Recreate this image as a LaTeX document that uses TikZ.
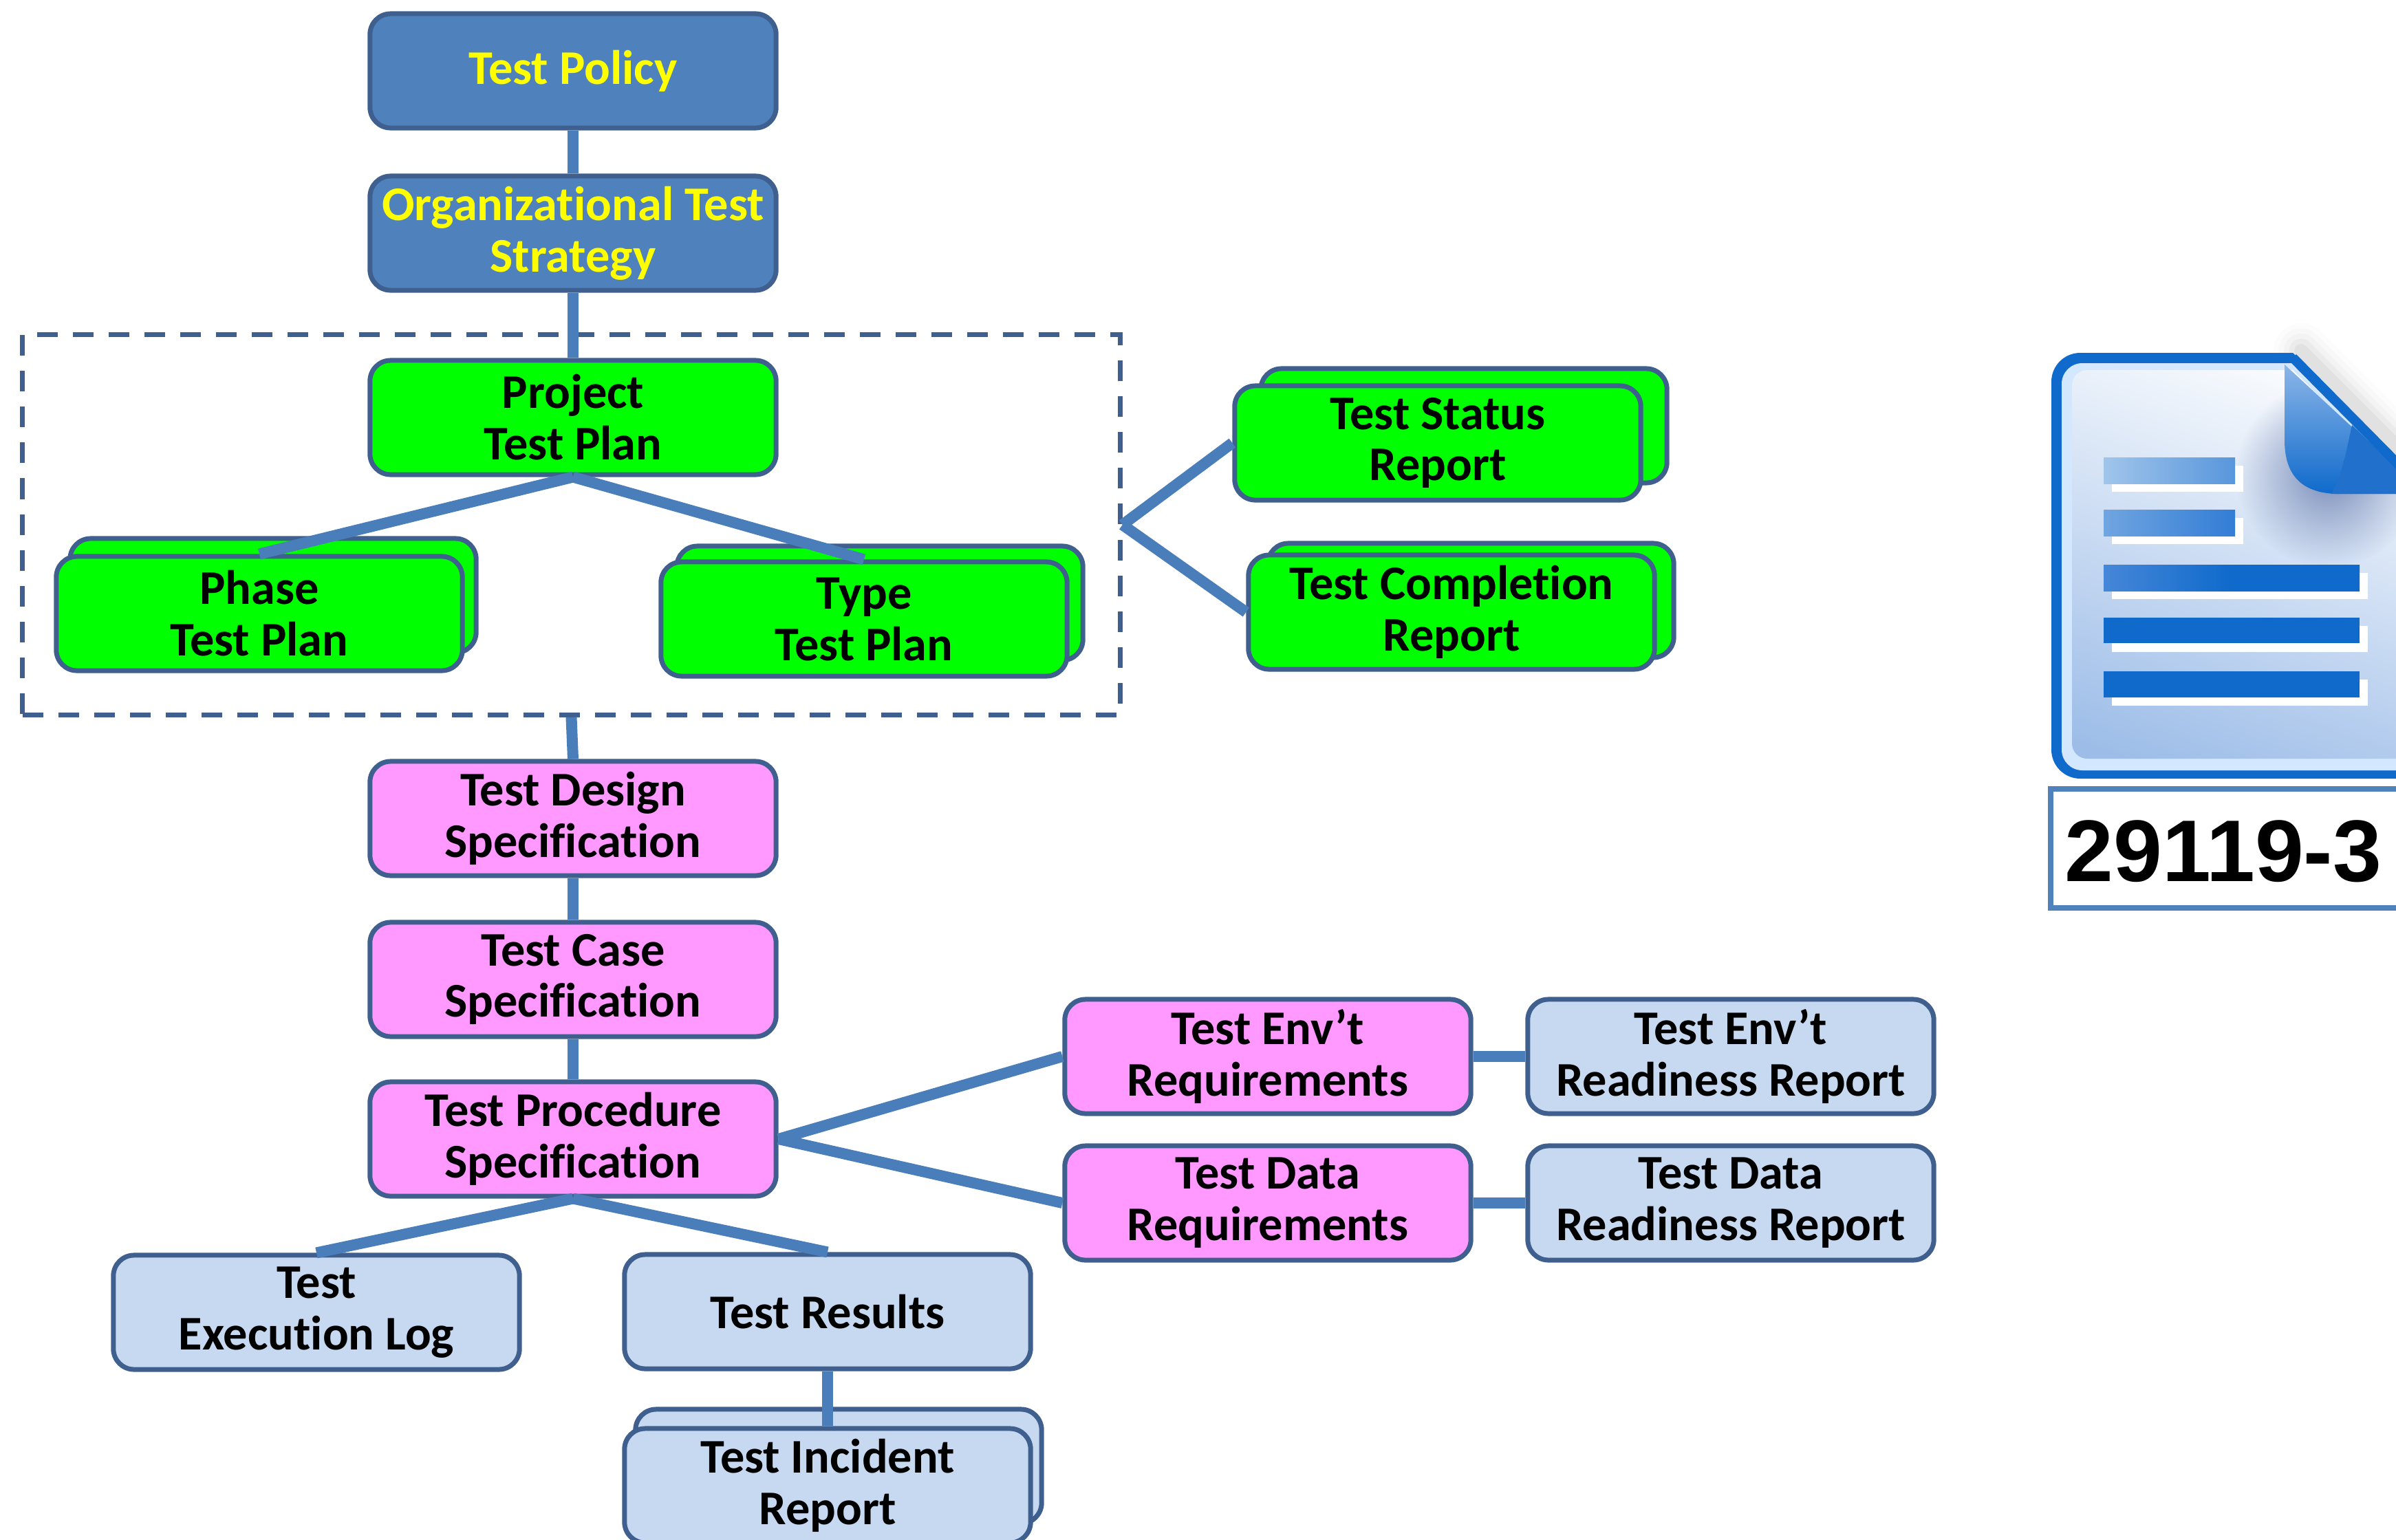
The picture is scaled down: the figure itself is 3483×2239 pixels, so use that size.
\documentclass[tikz,border=0pt]{standalone}
\usepackage{fontspec}
\usetikzlibrary{fadings}
\setmainfont[Ligatures=NoCommon]{Carlito}
\newfontfamily\labelfont{Liberation Sans}
\definecolor{boxline}{HTML}{3F5F8F}
\definecolor{linkblue}{HTML}{4A7EBB}
\definecolor{topblue}{HTML}{4F81BD}
\definecolor{planpink}{HTML}{FF99FF}
\definecolor{paleblue}{HTML}{C6D9F1}
\definecolor{plangreen}{HTML}{00FF00}
\definecolor{titleyellow}{HTML}{FFFF00}
\definecolor{docblue}{HTML}{0F6ACB}
\definecolor{docband}{HTML}{D3E8FF}
\definecolor{pagemid}{HTML}{C8D9F1}
\definecolor{pagelow}{HTML}{9DBDE8}
\definecolor{pageshadow}{HTML}{788CB9}
\definecolor{foldtop}{HTML}{8CB6E8}
\definecolor{folddark}{HTML}{2070CC}
\definecolor{barAl}{HTML}{A0C5EB}
\definecolor{barAr}{HTML}{5896DC}
\definecolor{barBl}{HTML}{70A5E0}
\definecolor{barBr}{HTML}{327DD6}
\definecolor{barCl}{HTML}{4687D8}
\tikzfading[name=softspot,inner color=transparent!0,outer color=transparent!100]
\tikzset{
  x=0.01cm,y=-0.01cm,
  basebox/.style={draw=boxline,line width=0.07cm,rounded corners=0.3cm,minimum width=5.9cm,minimum height=1.66cm,inner sep=0pt,align=center,font=\fontsize{20}{21.3}\selectfont\bfseries,text=black},
  bluebox/.style={basebox,fill=topblue,text=titleyellow},
  greenbox/.style={basebox,fill=plangreen},
  pinkbox/.style={basebox,fill=planpink},
  palebox/.style={basebox,fill=paleblue},
  link/.style={draw=linkblue,line width=0.16cm},
  frame/.style={draw=boxline,line width=0.065cm,dash pattern=on 0.3cm off 0.22cm,minimum width=15.95cm,minimum height=5.53cm,inner sep=0pt},
  barshadow/.style={fill=white},
}
\begin{document}
\begin{tikzpicture}
\useasboundingbox (0,0) rectangle (3483,2239);
\clip (0,0) rectangle (3483,2239);
\fill[white] (0,0) rectangle (3483,2239);
% dashed frame
\node[frame] (dashframe) at (830.5,763) {};
% stacked back boxes
\node[greenbox] (phaseback) at (397,866) {};
\node[greenbox] (typeback) at (1279,877) {};
\node[greenbox] (statusback) at (2128,619) {};
\node[greenbox] (complback) at (2138,873) {};
\node[palebox] (incidentback) at (1219,2132) {};
% boxes
\node[bluebox] (policy) at (833,103) {Test Policy};
\node[bluebox] (org) at (833,339) {Organizational Test\\Strategy};
\node[greenbox] (project) at (833,607) {Project\\Test Plan};
\node[greenbox] (phase) at (377,892) {Phase\\Test Plan};
\node[greenbox] (type) at (1256,900) {Type\\Test Plan};
\node[greenbox] (status) at (2090,644) {Test Status\\Report};
\node[greenbox] (compl) at (2110,890) {Test Completion\\Report};
\node[pinkbox] (design) at (833,1190) {Test Design\\Specification};
\node[pinkbox] (case) at (833,1424) {Test Case\\Specification};
\node[pinkbox] (proc) at (833,1656) {Test Procedure\\Specification};
\node[pinkbox] (envreq) at (1843,1536) {Test Env’t\\Requirements};
\node[pinkbox] (datareq) at (1843,1749) {Test Data\\Requirements};
\node[palebox] (envready) at (2516,1536) {Test Env’t\\Readiness Report};
\node[palebox] (dataready) at (2516,1749) {Test Data\\Readiness Report};
\node[palebox] (execlog) at (460,1908) {Test\\Execution Log};
\node[palebox] (results) at (1203,1907) {Test Results};
\node[palebox] (incident) at (1203,2160) {Test Incident\\Report};
% connectors
\draw[link] (policy.south) -- (org.north);
\draw[link] (org.south) -- (project.north);
\draw[link] (project.south) -- (phase.north);
\draw[link] (project.south) -- (type.north);
\draw[link] (dashframe.south) -- (design.north);
\draw[link] (dashframe.east) -- (status.west);
\draw[link] (dashframe.east) -- (compl.west);
\draw[link] (design.south) -- (case.north);
\draw[link] (case.south) -- (proc.north);
\draw[link] (proc.east) -- (envreq.west);
\draw[link] (proc.east) -- (datareq.west);
\draw[link] (envreq.east) -- (envready.west);
\draw[link] (datareq.east) -- (dataready.west);
\draw[link] (proc.south) -- (execlog.north);
\draw[link] (proc.south) -- (results.north);
\draw[link] (results.south) -- (incident.north);
% document icon
\foreach \w/\o in {0.8/0.010,0.65/0.015,0.5/0.02,0.35/0.03,0.2/0.04}
  \draw[line width=\w cm,black,opacity=\o,line cap=round] (3345,510) -- (3500,665);
\fill[docblue,rounded corners=0.42cm] (3100,513) -- (2982,513) -- (2982,1132) -- (3100,1132) [sharp corners] -- (3600,1132) -- (3600,780) -- (3333,513) -- cycle;
\fill[docband,rounded corners=0.3cm] (3100,528) -- (2997,528) -- (2997,1120) -- (3100,1120) [sharp corners] -- (3600,1120) -- (3600,795) -- (3333,528) -- cycle;
\begin{scope}
  \clip[rounded corners=0.22cm] (3100,538) -- (3012,538) -- (3012,1103) -- (3100,1103) [sharp corners] -- (3600,1103) -- (3600,805) -- (3333,538) -- cycle;
  \shade[top color=white,middle color=pagemid,bottom color=pagelow,shading angle=-20] (2950,500) rectangle (3600,1150);
  \fill[pageshadow,path fading=softspot] (3385,690) circle (135);
\end{scope}
% fold
\shade[top color=foldtop,bottom color=docblue] (3321,530) -- (3483,680) -- (3483,718) -- (3395,718) .. controls (3345,716) and (3321,690) .. (3321,640) -- cycle;
\fill[folddark] (3419,618) -- (3483,680) -- (3483,718) -- (3389,718) .. controls (3405,690) and (3412,650) .. (3419,618) -- cycle;
\draw[docblue,line width=0.14cm] (3333,520) -- (3500,689);
% bars
\foreach \y/\e in {665/3249,741/3249,821/3430,898/3430,976/3430}{
  \fill[barshadow] (3070,\y+12) rectangle (\e+12,\y+50);
}
\shade[left color=barAl,right color=barAr] (3058,665) rectangle (3249,703);
\shade[left color=barBl,right color=barBr] (3058,741) rectangle (3249,779);
\shade[left color=barCl,right color=docblue,middle color=docblue] (3058,821) rectangle (3430,859);
\fill[docblue] (3058,898) rectangle (3430,935);
\fill[docblue] (3058,976) rectangle (3430,1014);
% label
\draw[draw=topblue,fill=white,line width=0.08cm] (2981,1147) rectangle (3560,1320);
\node[font=\fontsize{36.2}{40}\selectfont\labelfont\bfseries,text=black,inner sep=0pt] (doclabel) at (3232,1238) {29119-3};
\end{tikzpicture}
\end{document}
